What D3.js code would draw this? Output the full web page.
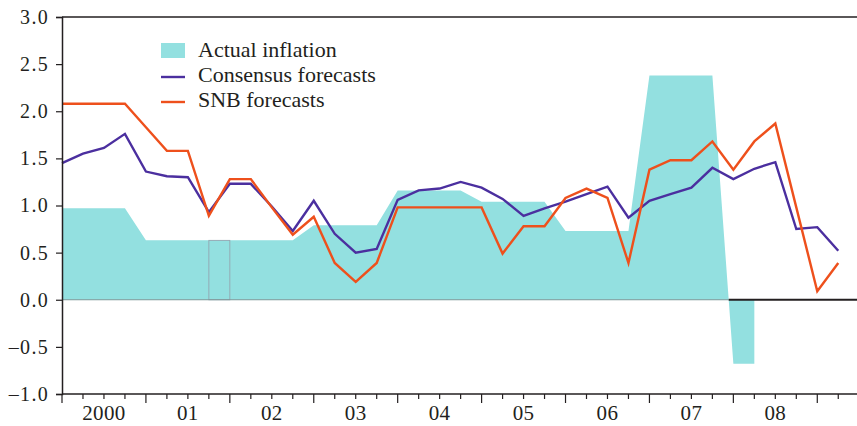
<!DOCTYPE html>
<html>
<head>
<meta charset="utf-8">
<script src="https://cdn.jsdelivr.net/npm/d3@7"></script>
<style>
  html, body { margin: 0; padding: 0; background: #fff; }
  svg { display: block; }
  text { font-family: "Liberation Serif", "DejaVu Serif", serif; fill: #231f20; }
</style>
</head>
<body>
<svg id="chart" width="857" height="426"></svg>
<script>
// ---- data (quarterly, starting 2000 Q1) ----
const yearLabels = ["2000", "01", "02", "03", "04", "05", "06", "07", "08"];
const yTicks = [-1.0, -0.5, 0.0, 0.5, 1.0, 1.5, 2.0, 2.5, 3.0];
const seriesNames = ["Actual inflation", "Consensus forecasts", "SNB forecasts"];

const actualInflation = [0.97, 0.97, 0.97, 0.97, 0.63, 0.63, 0.63, 0.63,
  0.63, 0.63, 0.63, 0.63, 0.79, 0.79, 0.79, 0.79,
  1.16, 1.16, 1.16, 1.16, 1.04, 1.04, 1.04, 1.04,
  0.73, 0.73, 0.73, 0.73, 2.38, 2.38, 2.38, 2.38,
  -0.68, -0.68];
const consensusForecasts = [1.45, 1.55, 1.61, 1.76, 1.36, 1.31, 1.30, 0.93,
  1.23, 1.23, 0.99, 0.73, 1.05, 0.70, 0.50, 0.54,
  1.06, 1.16, 1.18, 1.25, 1.19, 1.07, 0.89, 0.97,
  1.04, 1.12, 1.20, 0.87, 1.05, 1.12, 1.19, 1.40,
  1.28, 1.39, 1.46, 0.75, 0.77, 0.52];
const snbForecasts = [2.08, 2.08, 2.08, 2.08, 1.83, 1.58, 1.58, 0.89,
  1.28, 1.28, 0.98, 0.69, 0.88, 0.39, 0.19, 0.39,
  0.98, 0.98, 0.98, 0.98, 0.98, 0.49, 0.78, 0.78,
  1.08, 1.18, 1.08, 0.39, 1.38, 1.48, 1.48, 1.68,
  1.38, 1.68, 1.87, 0.98, 0.09, 0.39];
const outlinedQuarter = 7; // quarter drawn with a thin outline in the original
const startYear = 2000;

// ---- styles ----
const colActual = "#93e0e0";
const colConsensus = "#4b2f9f";
const colSNB = "#ee501c";
const colInk = "#231f20";

const svg = d3.select("#chart");
const margin = { left: 62, top: 17, bottom: 32 };
const W = 857, H = 426;

const qTime = i => startYear + i / 4;
const x = d3.scaleLinear().domain([2000, 2009.5]).range([margin.left, margin.left + 9.5 * 83.92]);
const y = d3.scaleLinear().domain([-1, 3]).range([H - margin.bottom, margin.top]);

// ---- actual inflation area ----
const actualPts = actualInflation.map((v, i) => [qTime(i), v]);
const area = d3.area().x(d => x(d[0])).y0(y(0)).y1(d => y(d[1]));
svg.append("path").datum(actualPts).attr("d", area).attr("fill", colActual);

// outlined quarter
svg.append("rect")
  .attr("x", x(qTime(outlinedQuarter)))
  .attr("y", y(actualInflation[outlinedQuarter]))
  .attr("width", x(qTime(outlinedQuarter + 1)) - x(qTime(outlinedQuarter)))
  .attr("height", y(0) - y(actualInflation[outlinedQuarter]))
  .attr("fill", "none").attr("stroke", "#93a5b0").attr("stroke-width", 0.9);

// zero line: grey where covered by positive area, black afterwards
let cross = actualInflation.findIndex(v => v < 0);
let crossT = qTime(actualInflation.length - 1);
if (cross > 0) {
  const a = actualInflation[cross - 1], b = actualInflation[cross];
  crossT = qTime(cross - 1 + a / (a - b));
}
svg.append("line").attr("x1", x(2000)).attr("x2", x(crossT))
  .attr("y1", y(0)).attr("y2", y(0)).attr("stroke", "#7c9799").attr("stroke-width", 1);
svg.append("line").attr("x1", x(crossT)).attr("x2", W)
  .attr("y1", y(0)).attr("y2", y(0)).attr("stroke", colInk).attr("stroke-width", 1.8);

// ---- lines ----
const line = d3.line().x((d, i) => x(qTime(i))).y(d => y(d));
svg.append("path").datum(consensusForecasts).attr("d", line)
  .attr("fill", "none").attr("stroke", colConsensus).attr("stroke-width", 2.4).attr("stroke-linejoin", "miter");
svg.append("path").datum(snbForecasts).attr("d", line)
  .attr("fill", "none").attr("stroke", colSNB).attr("stroke-width", 2.4).attr("stroke-linejoin", "miter");

// ---- axes ----
// top border
svg.append("line").attr("x1", x(2000)).attr("x2", W).attr("y1", y(3)).attr("y2", y(3))
  .attr("stroke", colInk).attr("stroke-width", 1.5);

// y axis
const yAxis = d3.axisLeft(y).tickValues(yTicks).tickSize(6).tickPadding(7)
  .tickFormat(d => (d < 0 ? "\u2013" : "") + d3.format(".1f")(Math.abs(d)));
const gy = svg.append("g").attr("transform", `translate(${x(2000)},0)`).call(yAxis);
gy.select(".domain").attr("stroke", colInk).attr("stroke-width", 1.5);
gy.selectAll(".tick line").attr("stroke", colInk).attr("stroke-width", 1.2);
gy.selectAll(".tick text").attr("font-size", 20).attr("letter-spacing", 1.3)
  .attr("font-family", "Liberation Serif").attr("fill", colInk);

// x axis (quarters)
const qTicks = d3.range(0, 38).map(qTime);
const xAxisG = svg.append("g").attr("transform", `translate(0,${y(-1)})`);
xAxisG.append("line").attr("x1", x(2000)).attr("x2", W).attr("y1", 0).attr("y2", 0)
  .attr("stroke", colInk).attr("stroke-width", 1.5);
xAxisG.selectAll("line.qt").data(qTicks).join("line").attr("class", "qt")
  .attr("x1", d => x(d)).attr("x2", d => x(d))
  .attr("y1", 0).attr("y2", d => Number.isInteger(d) ? 9 : 5)
  .attr("stroke", colInk).attr("stroke-width", 1.2);
xAxisG.selectAll("text.yl").data(yearLabels).join("text").attr("class", "yl")
  .attr("x", (d, i) => x(startYear + i + 0.5)).attr("y", 26)
  .attr("text-anchor", "middle").attr("font-size", 21).attr("letter-spacing", 0.4).text(d => d);

// ---- legend ----
const lg = svg.append("g").attr("transform", "translate(161,43)");
const rowH = 25;
seriesNames.forEach((name, i) => {
  const row = lg.append("g").attr("transform", `translate(0,${i * rowH})`);
  if (i === 0) {
    row.append("rect").attr("x", 0).attr("y", 0).attr("width", 24).attr("height", 15).attr("fill", colActual);
  } else {
    row.append("line").attr("x1", 0).attr("x2", 24).attr("y1", 9).attr("y2", 9)
      .attr("stroke", i === 1 ? colConsensus : colSNB).attr("stroke-width", 2.4);
  }
  row.append("text").attr("x", 37).attr("y", 14).attr("font-size", 22).text(name);
});
</script>
</body>
</html>
